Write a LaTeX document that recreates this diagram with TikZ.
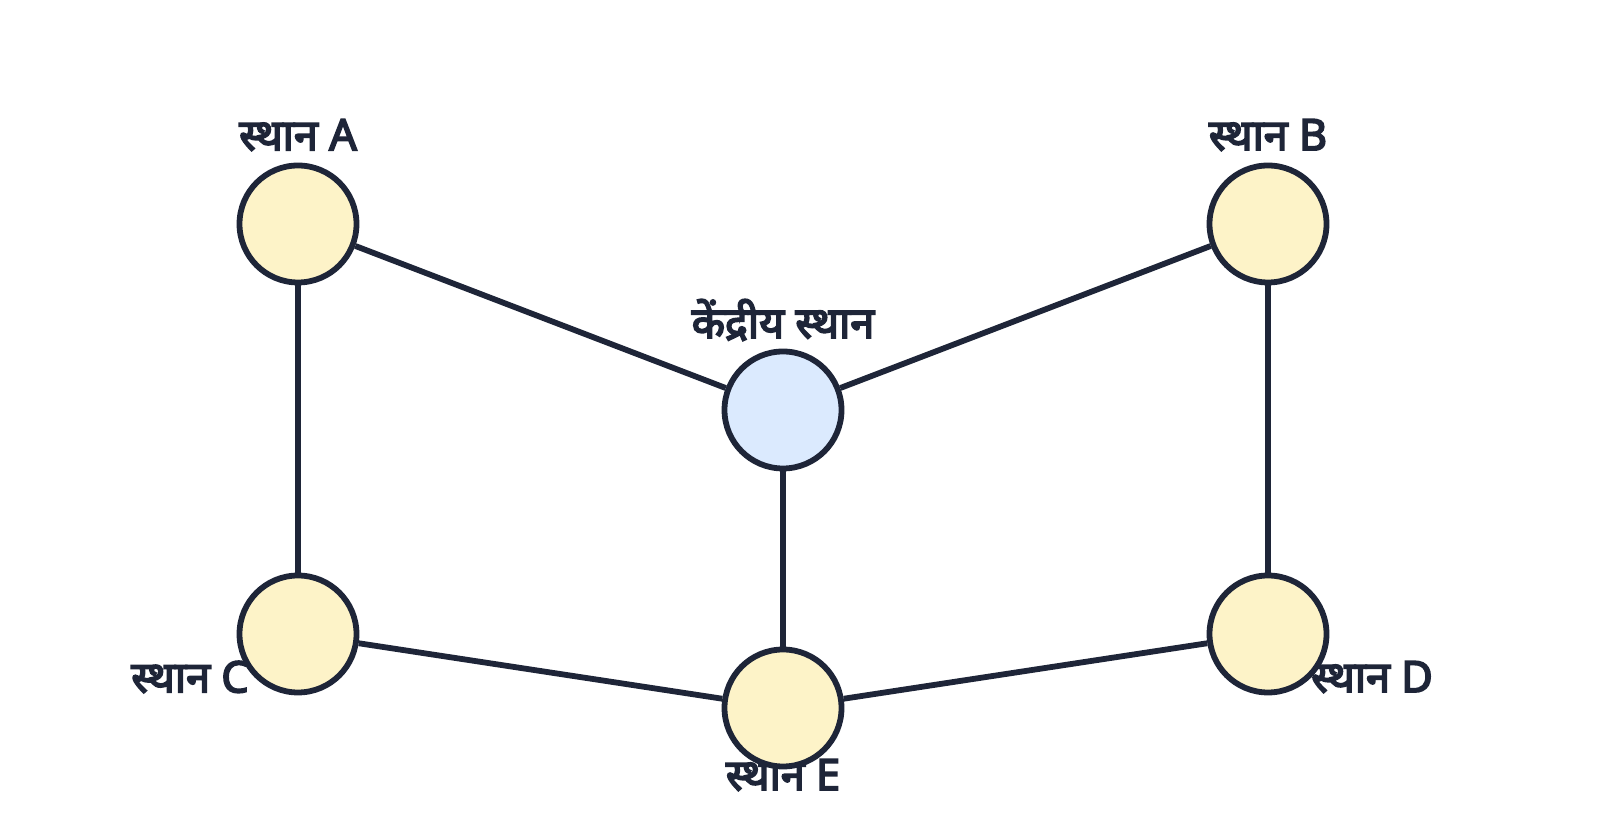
\documentclass[tikz,border=0pt]{standalone}
\usepackage{fontspec}
\newfontfamily\devfont[Script=Devanagari,AutoFakeBold=4]{Noto Sans}
\usepackage{tikz}
\usetikzlibrary{positioning}
\definecolor{edgeink}{HTML}{1E2538}
\definecolor{placefill}{HTML}{FDF3C8}
\definecolor{hubfill}{HTML}{DBEAFE}
\tikzset{
    place/.style={
        draw=edgeink,
        circle,
        fill=placefill,
        line width=0.058cm,
        minimum size=1.17cm,
        inner sep=0pt
    },
    hub/.style={
        place,
        fill=hubfill
    },
    tag/.style={
        text=edgeink,
        font=\devfont\bfseries\fontsize{12.3}{14}\selectfont,
        inner sep=0pt
    },
    link/.style={
        draw=edgeink,
        line width=0.058cm
    }
}

\begin{document}
\begin{tikzpicture}[scale=1.0]
  \useasboundingbox (0,0) rectangle (16,8.38);

  % Labels (behind the circles)
  \node[tag] (tA) at (2.98,7.03) {स्थान A};
  \node[tag] (tB) at (12.68,7.03) {स्थान B};
  \node[tag] (tM) at (7.83,5.18) {केंद्रीय स्थान};
  \node[tag] (tC) at (1.90,1.61) {स्थान C};
  \node[tag] (tD) at (13.72,1.61) {स्थान D};
  \node[tag] (tE) at (7.83,0.63) {स्थान E};

  % Places
  \node[place] (a) at (2.98,6.14) {};
  \node[place] (b) at (12.68,6.14) {};
  \node[hub] (m) at (7.83,4.28) {};
  \node[place] (c) at (2.98,2.04) {};
  \node[place] (d) at (12.68,2.04) {};
  \node[place] (e) at (7.83,1.30) {};

  % Links
  \draw[link] (a) -- (m);
  \draw[link] (b) -- (m);
  \draw[link] (m) -- (e);
  \draw[link] (a) -- (c);
  \draw[link] (b) -- (d);
  \draw[link] (c) -- (e);
  \draw[link] (e) -- (d);
\end{tikzpicture}
\end{document}
